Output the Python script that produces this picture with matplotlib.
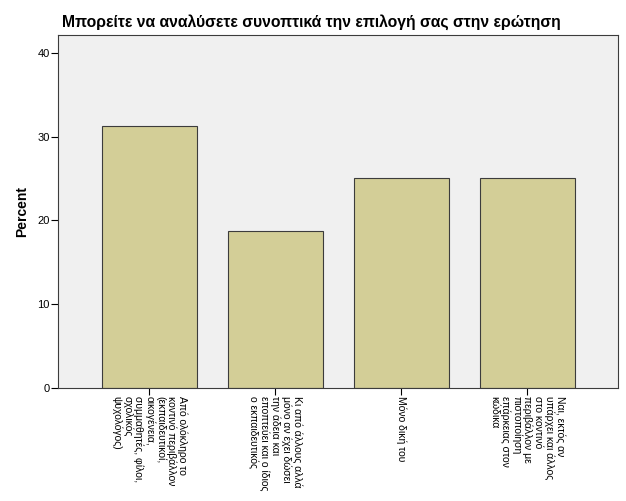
import matplotlib.pyplot as plt

plt.rcParams['font.family'] = ['Liberation Sans', 'DejaVu Sans']

# Данные
categories = [
    "Από ολόκληρο το\nκοντινό περιβάλλον\n(εκπαιδευτικοί,\nοικογένεια,\nσυμμαθητές, φίλοι,\nσχολικός\nψυχολόγος)",
    "Κι από άλλους αλλά\nμόνο αν έχει δώσει\nτην άδεια και\nεποπτεύει και ο ίδιος\nο εκπαιδευτικός",
    "Μόνο δική του",
    "Ναι, εκτός αν\nυπάρχει και άλλος\nστο κοντινό\nπεριβάλλον με\nπιστοποίηση\nεπάρκειας στον\nκώδικα",
]
percent = [31.25, 18.75, 25.0, 25.0]
yticks = [0, 10, 20, 30, 40]

fig = plt.figure(figsize=(6.26, 5.01), dpi=100)
ax = fig.add_axes([0.0927, 0.2255, 0.8943, 0.7045])
ax.set_facecolor('#F0F0F0')

pos = list(range(len(categories)))
ax.bar(pos, percent, width=0.754, color='#D3CE97', edgecolor='#3C3C3C', linewidth=0.8)

ax.set_xlim(-0.726, 3.718)
ax.set_ylim(0, 42.1)
ax.set_yticks(yticks)
ax.set_xticks(pos)
ax.set_xticklabels(categories, rotation=270, fontsize=7.5, linespacing=1.06,
                   ha='center', va='top', multialignment='left')
ax.tick_params(axis='y', labelsize=8, length=5, width=0.8, pad=1)
ax.tick_params(axis='x', length=5, width=0.8, pad=1)
for s in ax.spines.values():
    s.set_linewidth(0.8)
    s.set_color('#3C3C3C')

ax.set_ylabel('Percent', fontsize=10, fontweight='bold', labelpad=6)
fig.text(0.099, 0.955, 'Μπορείτε να αναλύσετε συνοπτικά την επιλογή σας στην ερώτηση',
         fontsize=11.3, fontweight='bold', ha='left', va='center')

fig.savefig('out.png', dpi=100)
